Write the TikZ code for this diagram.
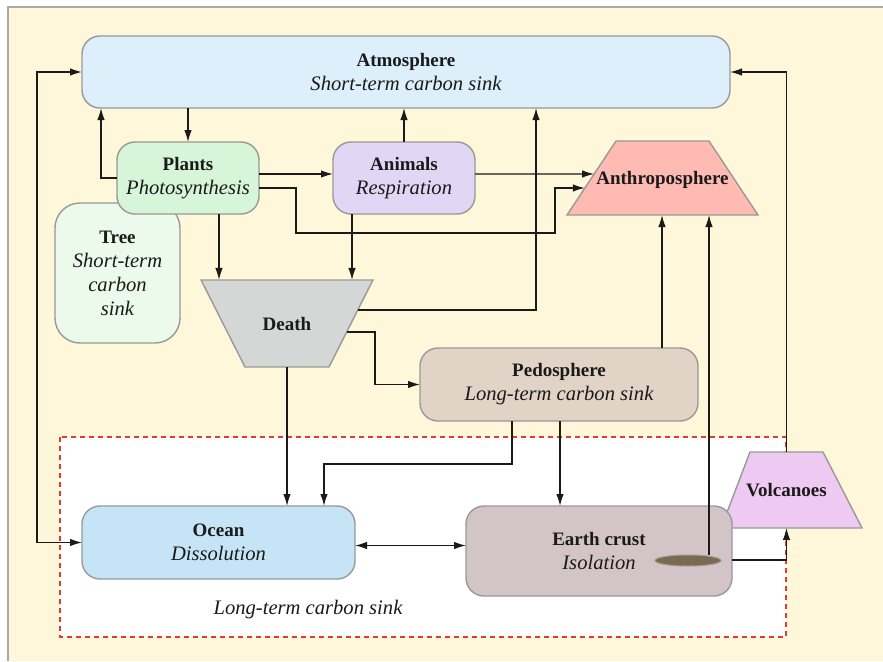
\documentclass[tikz,border=0pt]{standalone}
\usepackage{fontspec}
\setmainfont{Liberation Serif}
\usetikzlibrary{shapes.geometric,arrows.meta,calc}

\definecolor{panel}{HTML}{FEF7DA}
\definecolor{panelrule}{HTML}{A9A9A9}
\definecolor{rim}{HTML}{999999}
\definecolor{ink}{HTML}{1A1A1A}
\definecolor{atmfill}{HTML}{DDEFFB}
\definecolor{plantfill}{HTML}{D7F5D8}
\definecolor{treefill}{HTML}{ECFAEC}
\definecolor{animalfill}{HTML}{E1D7F5}
\definecolor{anthfill}{HTML}{FFBBB3}
\definecolor{deathfill}{HTML}{D5D6D6}
\definecolor{pedofill}{HTML}{E2D3C7}
\definecolor{oceanfill}{HTML}{C5E5F6}
\definecolor{crustfill}{HTML}{D3C5C7}
\definecolor{volcfill}{HTML}{EEC9F1}
\definecolor{pitfill}{HTML}{7B6A4F}
\definecolor{zonered}{HTML}{E53A2F}

\newcommand{\ttl}[1]{{\fontsize{19}{24}\selectfont\bfseries #1}}
\newcommand{\sub}[1]{{\fontsize{20.6}{24}\selectfont\itshape #1}}

\tikzset{
  box/.style={draw=rim, line width=1.4pt, rounded corners=18pt, align=center,
    inner sep=0pt, outer sep=0pt, text=ink, font=\fontsize{19}{24}\selectfont},
  % trapezium whose body (narrow side) is given by the text box
  trap/.style={trapezium, draw=rim, line width=1.4pt, trapezium stretches=false,
    inner sep=0pt, outer sep=0pt, text=ink},
  flow/.style={-{Latex[length=12pt,width=7.5pt]}, line width=1.3pt, draw=ink},
  bi/.style={{Latex[length=12pt,width=7.5pt]}-{Latex[length=12pt,width=7.5pt]}, line width=1.3pt, draw=ink},
}

\begin{document}
\begin{tikzpicture}[x=1pt,y=-1pt]
\useasboundingbox (0,0) rectangle (883,661);

% background panel
\fill[panel] (8,7) rectangle (883,661);
\draw[panelrule, line width=2pt] (8,661) -- (8,7) -- (883,7);

% long-term sink zone
\draw[zonered, fill=white, line width=1.3pt, dash pattern=on 5pt off 4pt] (60,437) rectangle (786,637);
\node[text=ink] (zonelabel) at (308,610) {\sub{Long-term carbon sink}};

% boxes
\node[box, fill=atmfill, minimum width=648pt, minimum height=72pt] (atm) at (406,72)
  {\ttl{Atmosphere}\\\sub{Short-term carbon sink}};
\node[box, fill=treefill, rounded corners=25pt, minimum width=125pt, minimum height=140pt] (tree) at (117.5,273)
  {\ttl{Tree}\\\sub{Short-term}\\\sub{carbon}\\\sub{sink}};
\node[box, fill=plantfill, minimum width=142pt, minimum height=72pt] (plants) at (188,178)
  {\ttl{Plants}\\\sub{Photosynthesis}};
\node[box, fill=animalfill, minimum width=142pt, minimum height=72pt] (animals) at (404,178)
  {\ttl{Animals}\\\sub{Respiration}};
\node[trap, fill=anthfill, trapezium left angle=56.5, trapezium right angle=56.5,
  text height=43pt, text depth=31pt] (anth) at (662.5,178) {\makebox[93pt]{\ttl{Anthroposphere}}};
\node[trap, fill=deathfill, trapezium left angle=116.8, trapezium right angle=116.8,
  text height=50pt, text depth=37pt] (death) at (287,323.5) {\makebox[84pt]{\ttl{Death}}};
\node[box, fill=pedofill, minimum width=278pt, minimum height=73pt] (pedo) at (559,384.5)
  {\ttl{Pedosphere}\\\sub{Long-term carbon sink}};
\node[box, fill=oceanfill, minimum width=273pt, minimum height=73pt] (ocean) at (218.5,542.5)
  {\ttl{Ocean}\\\sub{Dissolution}};
\node[trap, fill=volcfill, trapezium left angle=69.1, trapezium right angle=62.8,
  text height=44pt, text depth=32pt] (volc) at (786.5,490) {\makebox[73pt]{\ttl{Volcanoes}}};
\node[box, fill=crustfill, minimum width=266pt, minimum height=90pt] (crust) at (599,551)
  {\ttl{Earth crust}\\\sub{Isolation}};
\node[ellipse, draw=rim, line width=1pt, fill=pitfill, minimum width=66pt, minimum height=11pt,
  inner sep=0pt, outer sep=0pt] (pit) at (688,560.5) {};

% points on the slanted sides
\coordinate (anthA) at ($(anth.bottom left corner)!0.554!(anth.top left corner)$);
\coordinate (anthB) at ($(anth.bottom left corner)!0.365!(anth.top left corner)$);
\coordinate (deathA) at ($(death.top right corner)!0.345!(death.bottom right corner)$);
\coordinate (deathB) at ($(death.top right corner)!0.598!(death.bottom right corner)$);
\coordinate (k1) at (296,233);
\coordinate (k2) at (555,233);
\coordinate (k12) at (324,464);
\coordinate (k17) at (37,542.5);

% carbon flows
\draw[flow] (plants.north |- atm.south) -- (plants.north);
\draw[flow] (plants.west) -| ([xshift=-305pt]atm.south);
\draw[flow] ([yshift=4pt]plants.east) -- ([yshift=4pt]animals.west);
\draw[flow] ([yshift=-10pt]plants.east) -| (k1) -- (k2) |- (anthB);
\draw[flow] ([yshift=4pt]animals.east) -- (anthA);
\draw[flow] (animals.north) -- (animals.north |- atm.south);
\draw[flow] ([xshift=-52pt]animals.south) -- ([xshift=-52pt]animals.south |- death.north);
\draw[flow] ([xshift=31pt]plants.south) -- ([xshift=31pt]plants.south |- death.north);
\draw[flow] (deathA) -| ([xshift=130pt]atm.south);
\draw[flow] (deathB) -| ([xshift=-45pt]pedo.west) -- (pedo.west);
\draw[flow] (death.south) -- (death.south |- ocean.north);
\draw[flow] ([xshift=-47pt]pedo.south) |- (k12) -- (k12 |- ocean.north);
\draw[flow] ([xshift=1pt]pedo.south) -- ([xshift=1pt]pedo.south |- crust.north);
\draw[flow] ([xshift=103pt]pedo.north) -- ([xshift=103pt]pedo.north |- anth.south);
\draw[flow] ([xshift=21pt]pit.north) -- ([xshift=21pt]pit.north |- anth.south);
\draw[bi] ([yshift=-3pt]ocean.east) -- ([yshift=-3pt]ocean.east -| crust.west);
\draw[bi] (atm.west) -| (k17) -- (ocean.west);
\draw[flow] (volc.north) |- (atm.east);
\draw[flow] ([yshift=-9pt]crust.east) -| (volc.north |- volc.bottom left corner);
\end{tikzpicture}
\end{document}
